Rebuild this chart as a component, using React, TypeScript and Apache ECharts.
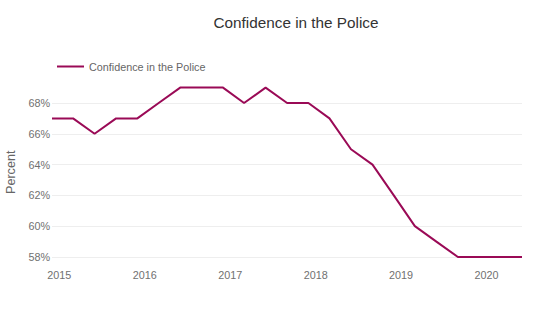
import React, { useEffect, useRef } from "react";
import * as echarts from "echarts";

const dates = [
  "2014-12-01", "2015-03-01", "2015-06-01", "2015-09-01", "2015-12-01",
  "2016-03-01", "2016-06-01", "2016-09-01", "2016-12-01",
  "2017-03-01", "2017-06-01", "2017-09-01", "2017-12-01",
  "2018-03-01", "2018-06-01", "2018-09-01", "2018-12-01",
  "2019-03-01", "2019-06-01", "2019-09-01", "2019-12-01",
  "2020-03-01", "2020-06-01",
];
const confidence = [67, 67, 66, 67, 67, 68, 69, 69, 69, 68, 69, 68, 68, 67, 65, 64, 62, 60, 59, 58, 58, 58, 58];
const seriesName = "Confidence in the Police";
const titleText = "Confidence in the Police";
const yAxisName = "Percent";

const FONT = "'Liberation Sans', Arial, sans-serif";

export default function App() {
  const ref = useRef<HTMLDivElement>(null);
  useEffect(() => {
    if (!ref.current) return;
    const chart = echarts.init(ref.current, undefined, { renderer: "svg" });
    chart.setOption({
      animation: false,
      backgroundColor: "#ffffff",
      textStyle: { fontFamily: FONT },
      title: {
        text: titleText,
        left: 291,
        top: 10,
        padding: 5,
        textAlign: "center",
        textStyle: { fontFamily: FONT, fontSize: 15.3, fontWeight: "normal", color: "#333333" },
      },
      legend: {
        left: 52,
        top: 56,
        itemWidth: 27,
        itemHeight: 14,
        itemGap: 10,
        textStyle: { fontFamily: FONT, fontSize: 10.8, color: "#666666" },
        data: [{ name: seriesName, icon: "path://M0,6 L27,6 L27,8 L0,8 Z" }],
      },
      grid: { left: 52, right: 35, top: 83, height: 178.6, containLabel: false, outerBoundsMode: "none" },
      xAxis: {
        type: "time",
        min: "2014-12-01",
        max: "2020-06-01",
        axisLine: { show: false },
        axisTick: { show: false },
        splitLine: { show: false },
        minInterval: 364 * 86400000,
        axisLabel: {
          formatter: "{yyyy}",
          showMinLabel: false,
          showMaxLabel: false,
          color: "#707070",
          fontFamily: FONT,
          fontSize: 10.8,
          margin: 8,
        },
      },
      yAxis: {
        type: "value",
        min: 57.7,
        max: 69.3,
        splitNumber: 5,
        name: yAxisName,
        nameLocation: "middle",
        nameGap: 30,
        nameTextStyle: { fontFamily: FONT, fontSize: 12.6, color: "#666666" },
        axisLine: { show: false },
        axisTick: { show: false },
        splitLine: {
          show: true,
          showMinLine: false,
          showMaxLine: false,
          lineStyle: { color: "#eeeeee", width: 1 },
        },
        axisLabel: {
          formatter: (v: number) => `${v}%`,
          showMinLabel: false,
          showMaxLabel: false,
          color: "#707070",
          fontFamily: FONT,
          fontSize: 10.8,
          margin: 2,
        },
      },
      series: [
        {
          name: seriesName,
          type: "line",
          symbol: "none",
          clip: false,
          color: "#9a0a56",
          lineStyle: { width: 2, color: "#9a0a56" },
          data: dates.map((d, i) => [d, confidence[i]]),
        },
      ],
    });
    return () => chart.dispose();
  }, []);
  return (
    <div
      ref={ref}
      style={{ position: "fixed", left: 0, top: 0, width: 557, height: 321 }}
    />
  );
}
